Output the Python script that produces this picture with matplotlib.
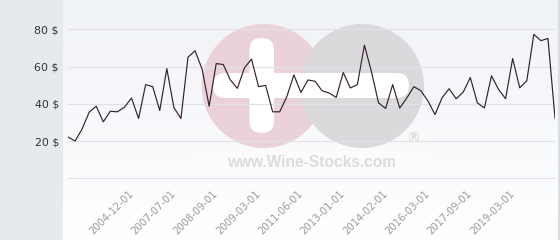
import numpy as np
import matplotlib
matplotlib.use('Agg')
import matplotlib.pyplot as plt
from matplotlib.patches import Circle, FancyBboxPatch, Rectangle

# prices, one per category
prices = [22.2, 20.0, 26.5, 35.5, 38.7, 30.3, 36.0, 35.7, 38.2, 43.1,
          32.1, 50.3, 49.2, 36.4, 58.9, 38.0, 32.1, 65.0, 68.5, 58.6,
          38.7, 61.6, 61.1, 52.8, 48.3, 59.3, 64.0, 49.2, 49.9, 35.7,
          35.7, 43.8, 55.5, 46.1, 52.8, 52.1, 47.0, 45.8, 43.4, 56.8,
          48.5, 50.3, 71.5, 57.1, 40.5, 37.5, 50.3, 37.7, 43.1, 49.2,
          47.0, 41.5, 34.2, 43.2, 48.1, 42.7, 46.3, 54.1, 40.5, 37.8,
          55.0, 47.7, 42.7, 64.3, 48.6, 52.3, 77.3, 73.9, 75.1, 32.4]
date_labels = ['2004-12-01', '2007-07-01', '2008-09-01', '2009-03-01', '2011-06-01',
               '2013-01-01', '2014-02-01', '2016-03-01', '2017-09-01', '2019-03-01']
y_ticks = [0, 20, 40, 60, 80]
y_labels = ['', '20 $', '40 $', '60 $', '80 $']

W, H = 560, 240
fig = plt.figure(figsize=(W / 100, H / 100), dpi=100)
fig.patch.set_facecolor('white')

# background layer in pixel coords (y down)
bg = fig.add_axes([0, 0, 1, 1], zorder=0)
bg.set_xlim(0, W)
bg.set_ylim(H, 0)
bg.axis('off')
bg.add_patch(Rectangle((0, 0), 62.5, H, color='#e6eaed', lw=0))
grad = np.linspace(0, 1, 256).reshape(-1, 1)
top = np.array([0.94, 0.95, 0.97])
bot = np.array([1.0, 1.0, 1.0])
img = top + (bot - top) * grad[:, :, None]
bg.imshow(img, extent=(62.5, 558.5, H, 0), aspect='auto', zorder=0.5)
bg.plot([558.8, 558.8], [0, H], color='#d3d7db', lw=1.2, zorder=1)

# watermark logo
bg.add_patch(Circle((263.7, 86), 62, color='#ebd2d9', lw=0, zorder=2))
bg.add_patch(Circle((362, 86), 62, color='#dadadc', lw=0, zorder=3))
bg.add_patch(FancyBboxPatch((213, 73), 196, 25, boxstyle='round,pad=0,rounding_size=12.5',
                            color='white', lw=0, zorder=4))
bg.add_patch(FancyBboxPatch((249.5, 38), 24.5, 95, boxstyle='round,pad=0,rounding_size=12',
                            color='white', lw=0, zorder=4))
bg.add_patch(Rectangle((197, 152), 230, 21, color='white', alpha=0.25, lw=0, zorder=4))
bg.text(312, 167, 'www.Wine-Stocks.com', family='Liberation Sans', weight='bold',
        fontsize=11.2, color='#dcdcdc', ha='center', va='baseline', zorder=5)
bg.text(413, 139, '\u00ae', family='DejaVu Sans', fontsize=10, color='#d6d6d6',
        ha='center', va='center', zorder=5)

# the chart itself
ppu = 1.8625  # pixels per unit
ymin = -0.6
ax = fig.add_axes([68 / W, (H - 178.3 + ymin * ppu) / H, (555 - 68) / W,
                   (178.3 - ymin * ppu) / H], zorder=1)
ax.patch.set_alpha(0)
x = np.arange(len(prices))
ax.plot(x, prices, color='#35212c', lw=0.85, zorder=3)
ax.set_xlim(0, len(prices) - 1)
ax.set_ylim(ymin, 178.3 / ppu)

ax.set_yticks(y_ticks)
ax.set_yticklabels(y_labels)
ax.set_xticks(9 + 6 * np.arange(len(date_labels)))
ax.set_xticklabels(date_labels, rotation=45, ha='right', va='center',
                   rotation_mode='anchor')
ax.tick_params(axis='y', length=0, pad=6.5, labelsize=7.9, labelcolor='#333333')
ax.tick_params(axis='x', length=0, pad=9, labelsize=7.2, labelcolor='#9a9a9a')
ax.grid(axis='y', color='#e0e2e6', lw=0.8, zorder=1)
for s in ax.spines.values():
    s.set_visible(False)

fig.savefig('out.png', dpi=100)
